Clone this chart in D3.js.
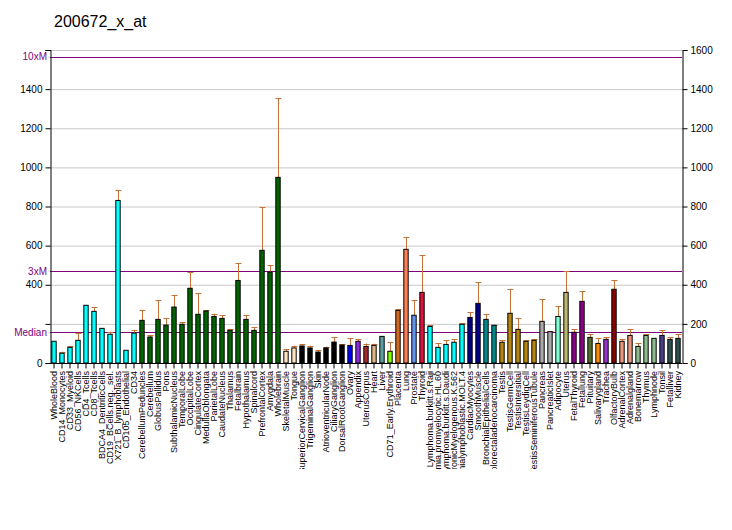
<!DOCTYPE html>
<html>
<head>
<meta charset="utf-8">
<script src="https://cdn.jsdelivr.net/npm/d3@7"></script>
<style>
  body { margin: 0; background: #fff; }
  text { font-family: "Liberation Sans", Arial, sans-serif; }
</style>
</head>
<body>
<svg id="chart" width="732" height="530"></svg>
<script>
const title = "200672_x_at";

const labels = [
  "WholeBlood","CD14_Monocytes","CD33_Myeloid","CD56_NKCells","CD4_Tcells","CD8_Tcells",
  "BDCA4_DentriticCells","CD19_BCells.neg._sel.","X721_B_lymphoblasts","CD105_Endothelial","CD34",
  "CerebellumPeduncles","Cerebellum","GlobusPallidus","Pons","SubthalamicNucleus","TemporalLobe",
  "OccipitalLobe","CingulateCortex","MedullaOblongata","ParietalLobe","CaudateNucleus","Thalamus",
  "Fetalbrain","Hypothalamus","Spinalcord","PrefrontalCortex","Amygdala","Wholebrain",
  "SkeletalMuscle","Tongue","SuperiorCervicalGanglion","TrigeminalGanglion","Skin",
  "AtrioventricularNode","CiliaryGanglion","DorsalRootGanglion","Ovary","Appendix","UterusCorpus",
  "Heart","Liver","CD71_Early.Erythroid","Placenta","Lung","Prostate","Thyroid",
  "Lymphoma.burkitt.s.Raji","Leukemia.promyelocytic.HL.60","Lymphoma.burkitt.s.Daudi",
  "Leukemia.chronicMyelogenous.K.562","Leukemialymphoblastic.MOLT.4","CardiacMyocytes",
  "SmoothMuscle","BronchialEpithelialCells","Colorectaladenocarcinoma","Testis","TestisGermCell",
  "TestisIntersitial","TestisLeydigCell","TestisSeminiferousTubule","Pancreas","PancreaticIslet",
  "Adipocyte","Uterus","FetalThyroid","Fetallung","Pituitary","Salivarygland","Trachea",
  "OlfactoryBulb","AdrenalCortex","Adrenalgland","Bonemarrow","Thymus","Lymphnode","Tonsil",
  "Fetalliver","Kidney"
];

const values = [
  111,50,80,116,295,264,177,147,831,65,153,
  218,133,223,194,286,198,382,249,266,238,228,167,422,223,167,576,465,949,
  60,77,87,77,56,77,107,92,90,111,85,90,136,60,269,581,244,361,
  187,80,95,106,198,233,305,223,193,106,254,172,111,116,213,160,
  238,361,157,315,131,100,121,377,111,141,85,141,126,141,121,126
];

// upper end of the error bar (null = no error bar drawn)
const errorTops = [
  null,58,85,155,null,285,null,160,882,null,170,
  269,141,320,228,346,208,463,356,269,252,243,172,509,244,182,796,499,1353,
  70,89,95,89,65,83,131,95,126,121,99,99,null,106,274,642,320,550,
  193,100,116,121,203,259,412,249,195,116,377,228,116,121,325,162,
  290,469,172,366,147,126,131,423,121,172,100,147,null,167,131,147
];

const colors = [
  "#00FFFF","#00FFFF","#00FFFF","#00FFFF","#00FFFF","#00FFFF","#00FFFF","#00FFFF","#00FFFF","#00FFFF","#00FFFF",
  "#006400","#006400","#006400","#006400","#006400","#006400","#006400","#006400","#006400","#006400","#006400","#006400","#006400","#006400","#006400","#006400","#006400","#006400",
  "#FFE4C4","#FFE4C4","#000000","#000000","#000000","#000000","#000000","#000000",
  "#0000FF","#8A2BE2","#A52A2A","#DEB887","#5F9EA0","#7FFF00","#D2691E","#FF7F50","#6495ED","#DC143C",
  "#00FFFF","#00FFFF","#00FFFF","#00FFFF","#00FFFF",
  "#00008B","#00008B","#008B8B","#008B8B",
  "#B8860B","#B8860B","#B8860B","#B8860B","#B8860B",
  "#A9A9A9","#A9A9A9","#7FFFD4","#BDB76B","#8B008B","#8B008B","#556B2F","#FF8C00","#9932CC","#8B0000",
  "#E9967A","#E9967A","#8FBC8F","#8FBC8F","#8FBC8F","#483D8B","#2F4F4F","#2F4F4F"
];

const median = 156.5;
const refLines = [
  {label: "Median", value: median},
  {label: "3xM", value: median * 3},
  {label: "10xM", value: median * 10}
];
const leftTickLabels = [0, 400, 600, 800, 1000, 1200, 1400];
const allTicks = [0, 200, 400, 600, 800, 1000, 1200, 1400, 1600];

const svg = d3.select("#chart");
const L = 50, R = 682, T = 50, B = 363;
const purple = "#800080";
const errColor = "#C87137";

const x = d3.scaleBand().domain(d3.range(labels.length)).range([L, R])
  .paddingInner(0.33).paddingOuter(0.165);
const y = d3.scaleLinear().domain([0, 1600]).range([B, T]);

// title
svg.append("text").attr("x", 54).attr("y", 27).attr("font-size", 16).text(title);

// gridlines
svg.append("g").selectAll("line").data(allTicks.filter(d => d > 0)).join("line")
  .attr("x1", L).attr("x2", R).attr("y1", d => y(d) + 0.5).attr("y2", d => y(d) + 0.5)
  .attr("stroke", "#c8c8c8").attr("stroke-width", 1);

// reference lines
svg.append("g").selectAll("line").data(refLines).join("line")
  .attr("x1", L).attr("x2", R)
  .attr("y1", d => Math.round(y(d.value)) + 0.5).attr("y2", d => Math.round(y(d.value)) + 0.5)
  .attr("stroke", purple).attr("stroke-width", 1);

// error bars
const eb = svg.append("g").attr("stroke", errColor).attr("stroke-width", 1);
labels.forEach((lab, i) => {
  if (errorTops[i] == null) return;
  const cx = Math.round(x(i) + x.bandwidth() / 2) + 0.5;
  eb.append("line").attr("x1", cx).attr("x2", cx).attr("y1", y(values[i])).attr("y2", y(errorTops[i]));
  eb.append("line").attr("x1", cx - 3).attr("x2", cx + 3)
    .attr("y1", Math.round(y(errorTops[i])) + 0.5).attr("y2", Math.round(y(errorTops[i])) + 0.5);
});

// bars
svg.append("g").selectAll("rect").data(values).join("rect")
  .attr("x", (d, i) => x(i) + 0.5)
  .attr("y", d => y(d))
  .attr("width", x.bandwidth() - 1)
  .attr("height", d => B - y(d))
  .attr("fill", (d, i) => colors[i])
  .attr("stroke", "#000").attr("stroke-width", 1);

// left axis
const leftAxis = d3.axisLeft(y).tickValues(allTicks).tickSize(5)
  .tickFormat(d => leftTickLabels.includes(d) ? String(d) : "");
const gl = svg.append("g").attr("transform", `translate(${L + 0.5},0)`).call(leftAxis);
gl.select(".domain").attr("stroke", "#000");
gl.selectAll("text").attr("font-size", 10).attr("font-family", "Liberation Sans, Arial, sans-serif").attr("fill", "#000");

svg.append("g").selectAll("text").data(refLines).join("text")
  .attr("x", L - 3).attr("y", d => y(d.value)).attr("dy", "0.35em")
  .attr("text-anchor", "end").attr("font-size", 10).attr("fill", purple)
  .text(d => d.label);

// right axis
const rightAxis = d3.axisRight(y).tickValues(allTicks).tickSize(5).tickFormat(d3.format("d"));
const gr = svg.append("g").attr("transform", `translate(${R + 0.5},0)`).call(rightAxis);
gr.selectAll("text").attr("font-size", 10).attr("font-family", "Liberation Sans, Arial, sans-serif").attr("fill", "#000");

// bottom axis
const bottomAxis = d3.axisBottom(x).tickSize(5).tickFormat("");
const gb = svg.append("g").attr("transform", `translate(0,${B + 0.5})`).call(bottomAxis);
gb.select(".domain").attr("d", `M${L},0H${R}`);

// x labels (clipped)
svg.append("clipPath").attr("id", "lblclip").append("rect")
  .attr("x", 0).attr("y", B).attr("width", 732).attr("height", 106);
svg.append("g").attr("clip-path", "url(#lblclip)")
  .selectAll("text").data(labels).join("text")
  .attr("transform", (d, i) => `translate(${x(i) + x.bandwidth() / 2},371) rotate(-90)`)
  .attr("text-anchor", "end").attr("dy", "0.35em")
  .attr("font-size", 9).attr("fill", "#000")
  .text(d => d);
</script>
</body>
</html>
